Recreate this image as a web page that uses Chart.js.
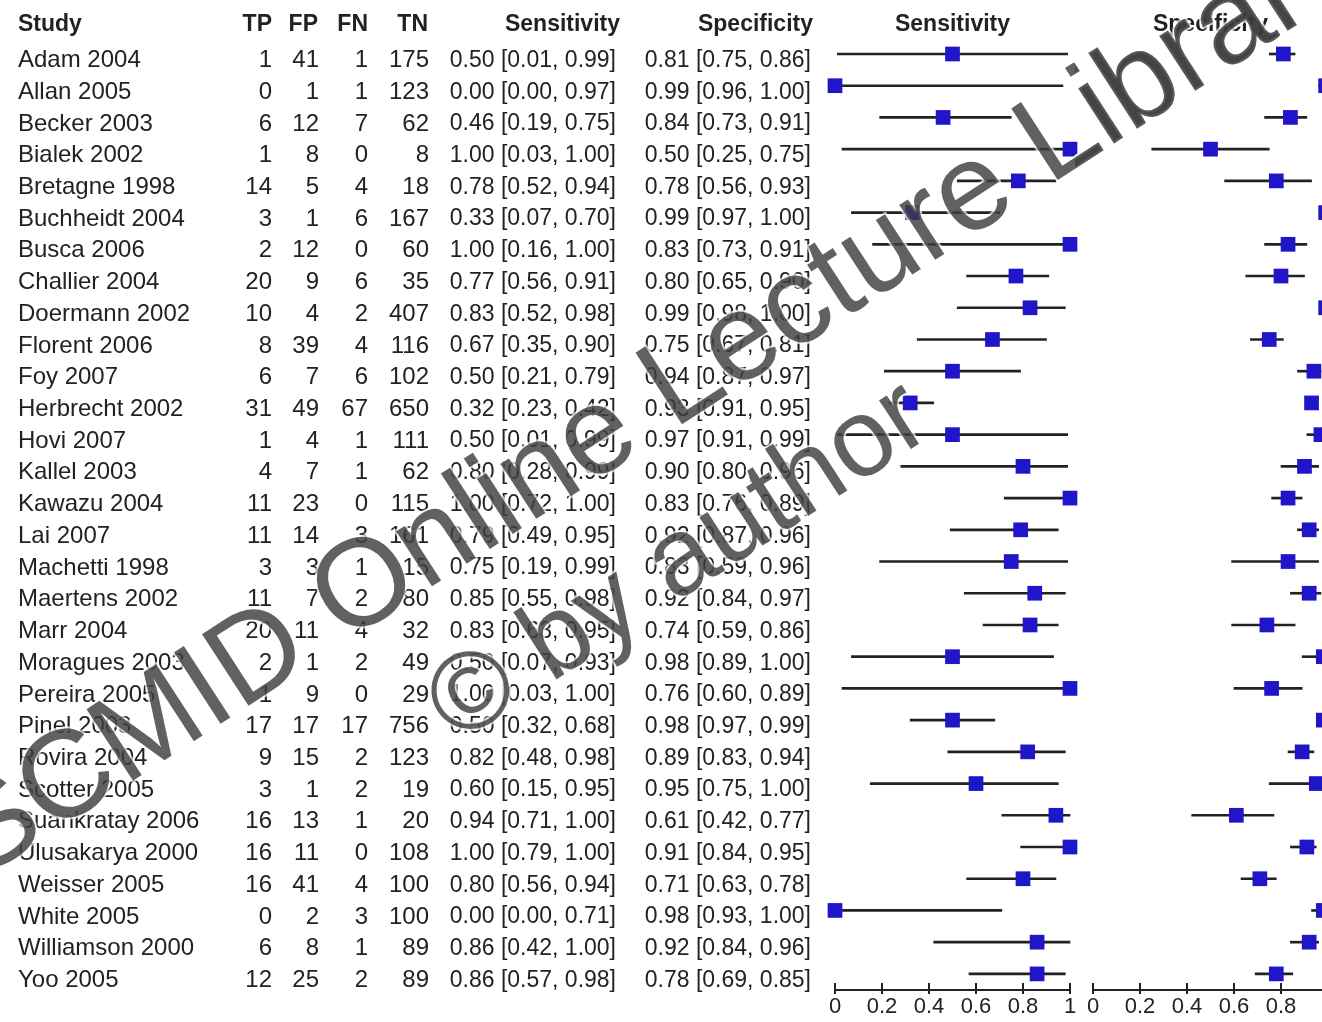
<!DOCTYPE html>
<html>
<head>
<meta charset="UTF-8">
<title>Forest plot</title>
<script src="https://cdn.jsdelivr.net/npm/chart.js@4.4.1/dist/chart.umd.min.js"></script>
<style>
html, body { margin: 0; padding: 0; background: #fff; overflow: hidden; width: 1322px; height: 1022px; }
canvas { position: absolute; top: 0; }
#sensChart { left: 0; }
#specChart { left: 1075px; }
</style>
</head>
<body>
<canvas id="sensChart" width="1322" height="1022"></canvas>
<canvas id="specChart" width="270" height="1022"></canvas>
<script>
var studies = ['Adam 2004', 'Allan 2005', 'Becker 2003', 'Bialek 2002', 'Bretagne 1998', 'Buchheidt 2004',
  'Busca 2006', 'Challier 2004', 'Doermann 2002', 'Florent 2006', 'Foy 2007', 'Herbrecht 2002', 'Hovi 2007',
  'Kallel 2003', 'Kawazu 2004', 'Lai 2007', 'Machetti 1998', 'Maertens 2002', 'Marr 2004', 'Moragues 2003',
  'Pereira 2005', 'Pinel 2003', 'Rovira 2004', 'Scotter 2005', 'Suankratay 2006', 'Ulusakarya 2000',
  'Weisser 2005', 'White 2005', 'Williamson 2000', 'Yoo 2005'];
var tp = [1, 0, 6, 1, 14, 3, 2, 20, 10, 8, 6, 31, 1, 4, 11, 11, 3, 11, 20, 2, 1, 17, 9, 3, 16, 16, 16, 0, 6, 12];
var fp = [41, 1, 12, 8, 5, 1, 12, 9, 4, 39, 7, 49, 4, 7, 23, 14, 3, 7, 11, 1, 9, 17, 15, 1, 13, 11, 41, 2, 8, 25];
var fn = [1, 1, 7, 0, 4, 6, 0, 6, 2, 4, 6, 67, 1, 1, 0, 3, 1, 2, 4, 2, 0, 17, 2, 2, 1, 0, 4, 3, 1, 2];
var tn = [175, 123, 62, 8, 18, 167, 60, 35, 407, 116, 102, 650, 111, 62, 115, 161, 15, 80, 32, 49, 29, 756, 123, 19, 20, 108, 100, 100, 89, 89];
var sens   = [0.50, 0.00, 0.46, 1.00, 0.78, 0.33, 1.00, 0.77, 0.83, 0.67, 0.50, 0.32, 0.50, 0.80, 1.00, 0.79, 0.75, 0.85, 0.83, 0.50, 1.00, 0.50, 0.82, 0.60, 0.94, 1.00, 0.80, 0.00, 0.86, 0.86];
var sensLo = [0.01, 0.00, 0.19, 0.03, 0.52, 0.07, 0.16, 0.56, 0.52, 0.35, 0.21, 0.23, 0.01, 0.28, 0.72, 0.49, 0.19, 0.55, 0.63, 0.07, 0.03, 0.32, 0.48, 0.15, 0.71, 0.79, 0.56, 0.00, 0.42, 0.57];
var sensHi = [0.99, 0.97, 0.75, 1.00, 0.94, 0.70, 1.00, 0.91, 0.98, 0.90, 0.79, 0.42, 0.99, 0.99, 1.00, 0.95, 0.99, 0.98, 0.95, 0.93, 1.00, 0.68, 0.98, 0.95, 1.00, 1.00, 0.94, 0.71, 1.00, 0.98];
var spec   = [0.81, 0.99, 0.84, 0.50, 0.78, 0.99, 0.83, 0.80, 0.99, 0.75, 0.94, 0.93, 0.97, 0.90, 0.83, 0.92, 0.83, 0.92, 0.74, 0.98, 0.76, 0.98, 0.89, 0.95, 0.61, 0.91, 0.71, 0.98, 0.92, 0.78];
var specLo = [0.75, 0.96, 0.73, 0.25, 0.56, 0.97, 0.73, 0.65, 0.98, 0.67, 0.87, 0.91, 0.91, 0.80, 0.76, 0.87, 0.59, 0.84, 0.59, 0.89, 0.60, 0.97, 0.83, 0.75, 0.42, 0.84, 0.63, 0.93, 0.84, 0.69];
var specHi = [0.86, 1.00, 0.91, 0.75, 0.93, 1.00, 0.91, 0.90, 1.00, 0.81, 0.97, 0.95, 0.99, 0.96, 0.89, 0.96, 0.96, 0.97, 0.86, 1.00, 0.89, 0.99, 0.94, 1.00, 0.77, 0.95, 0.78, 1.00, 0.96, 0.85];
var xTicks = [0, 0.2, 0.4, 0.6, 0.8, 1];

var FONT = '"Liberation Sans", Arial, sans-serif';
var INK = '#222';
var BLUE = 'rgb(30, 22, 200)';

function ci(v, lo, hi) {
  return v.toFixed(2) + ' [' + lo.toFixed(2) + ', ' + hi.toFixed(2) + ']';
}

// table on the left, rows placed with the chart's own y scale
var tablePlugin = {
  id: 'table',
  afterDraw: function(chart) {
    var ctx = chart.ctx, y = chart.scales.y, x = chart.scales.x;
    var hy = y.getPixelForValue(0) - 29.5;
    ctx.save();
    ctx.fillStyle = INK;
    ctx.textBaseline = 'middle';
    ctx.font = 'bold 23px ' + FONT;
    ctx.textAlign = 'left';
    ctx.fillText('Study', 18, hy);
    ctx.textAlign = 'right';
    ctx.fillText('TP', 272, hy);
    ctx.fillText('FP', 318, hy);
    ctx.fillText('FN', 368, hy);
    ctx.fillText('TN', 428, hy);
    ctx.fillText('Sensitivity', 620, hy);
    ctx.fillText('Specificity', 813, hy);
    ctx.textAlign = 'center';
    ctx.fillText('Sensitivity', (x.left + x.right) / 2, hy);
    for (var i = 0; i < studies.length; i++) {
      var py = y.getPixelForValue(i) + 6.5;
      ctx.font = '24px ' + FONT;
      ctx.textAlign = 'left';
      ctx.fillText(studies[i], 18, py);
      ctx.textAlign = 'right';
      ctx.fillText(tp[i], 272, py);
      ctx.fillText(fp[i], 319, py);
      ctx.fillText(fn[i], 368, py);
      ctx.fillText(tn[i], 429, py);
      ctx.font = '23px ' + FONT;
      ctx.fillText(ci(sens[i], sensLo[i], sensHi[i]), 616, py);
      ctx.fillText(ci(spec[i], specLo[i], specHi[i]), 811, py);
    }
    ctx.restore();
  }
};

var specTitlePlugin = {
  id: 'specTitle',
  afterDraw: function(chart) {
    var ctx = chart.ctx, y = chart.scales.y, x = chart.scales.x;
    ctx.save();
    ctx.fillStyle = INK;
    ctx.textBaseline = 'middle';
    ctx.textAlign = 'center';
    ctx.font = 'bold 23px ' + FONT;
    ctx.fillText('Specificity', (x.left + x.right) / 2, y.getPixelForValue(0) - 29.5);
    ctx.restore();
  }
};

// axis line crossing the tick marks
var axisPlugin = {
  id: 'axisLine',
  afterDraw: function(chart) {
    var ctx = chart.ctx, x = chart.scales.x;
    var yy = chart.chartArea.bottom + 7;
    ctx.save();
    ctx.strokeStyle = INK;
    ctx.lineWidth = 2;
    ctx.beginPath();
    ctx.moveTo(x.getPixelForValue(xTicks[0]) - 1, yy);
    ctx.lineTo(x.getPixelForValue(xTicks[xTicks.length - 1]) + 1, yy);
    ctx.stroke();
    ctx.restore();
  }
};

function watermark(dx) {
  return {
    id: 'watermark',
    afterDraw: function(chart) {
      var ctx = chart.ctx;
      ctx.save();
      ctx.translate(-dx, 0);
      ctx.lineJoin = 'round';
      ctx.fillStyle = 'rgba(62, 62, 62, 0.82)';
      ctx.strokeStyle = 'rgba(255, 255, 255, 0.7)';
      ctx.lineWidth = 4;
      ctx.save();
      ctx.translate(-20, 880);
      ctx.rotate(-33 * Math.PI / 180);
      ctx.font = '124px ' + FONT;
      ctx.strokeText('SCMID Online Lecture Library', 0, 0);
      ctx.fillText('SCMID Online Lecture Library', 0, 0);
      ctx.restore();
      ctx.save();
      ctx.translate(457, 744);
      ctx.rotate(-33 * Math.PI / 180);
      ctx.font = '110px ' + FONT;
      ctx.strokeText('\u00a9 by author', 0, 0);
      ctx.fillText('\u00a9 by author', 0, 0);
      ctx.restore();
      ctx.restore();
    }
  };
}

function forest(id, est, lo, hi, pad, plugins) {
  return new Chart(document.getElementById(id), {
    type: 'scatter',
    data: {
      datasets: [{
        type: 'scatter',
        data: est.map(function(v, i) { return {x: v, y: i}; }),
        pointStyle: 'rect',
        pointRadius: 10.4,
        backgroundColor: BLUE,
        borderWidth: 0,
        clip: false,
        order: 0
      }, {
        type: 'bar',
        indexAxis: 'y',
        data: lo.map(function(v, i) { return {x: [v, hi[i]], y: i}; }),
        barThickness: 2,
        backgroundColor: INK,
        borderWidth: 0,
        clip: false,
        order: 1
      }]
    },
    options: {
      responsive: false,
      animation: false,
      devicePixelRatio: 1,
      events: [],
      layout: { padding: pad, autoPadding: false },
      plugins: { legend: { display: false }, tooltip: { enabled: false } },
      scales: {
        x: {
          type: 'linear', min: 0, max: 1, offset: false,
          afterBuildTicks: function(s) { s.ticks = xTicks.map(function(v) { return {value: v}; }); },
          ticks: {
            padding: 0, color: INK, maxRotation: 0, autoSkip: false,
            font: { family: FONT, size: 22 },
            callback: function(v) { return String(+v.toFixed(1)); }
          },
          grid: { drawOnChartArea: false, drawTicks: true, tickLength: 11, lineWidth: 2, color: INK, offset: false },
          border: { display: false }
        },
        y: { type: 'linear', display: false, reverse: true, min: -1.639, max: 29.287, offset: false }
      }
    },
    plugins: plugins
  });
}

forest('sensChart', sens, sensLo, sensHi,
  { left: 835, right: 252, top: 2, bottom: 1.6 },
  [axisPlugin, tablePlugin, watermark(0)]);
forest('specChart', spec, specLo, specHi,
  { left: 18, right: 17, top: 2, bottom: 1.6 },
  [axisPlugin, specTitlePlugin, watermark(1075)]);
</script>
</body>
</html>
